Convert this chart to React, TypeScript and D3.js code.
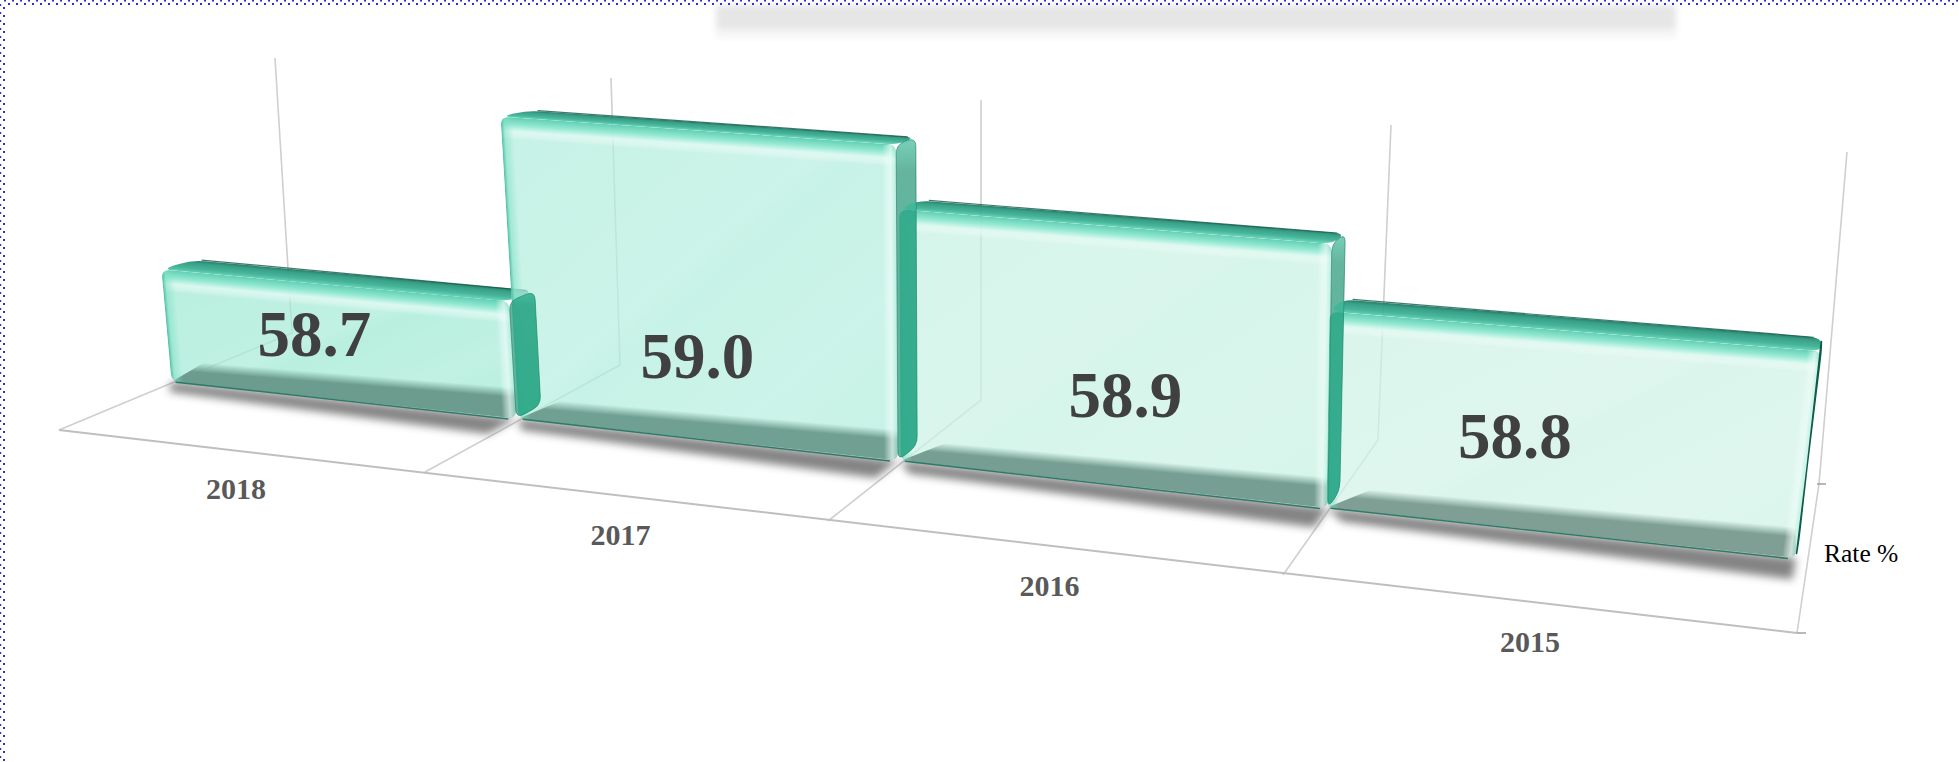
import React from "react";
import * as d3 from "d3";

// ---------- data ----------
const categories = ["2018", "2017", "2016", "2015"];
const rates = [58.7, 59.0, 58.9, 58.8];
const rateLabels = ["58.7", "59.0", "58.9", "58.8"];
const axisTitle = "Rate %";

// ---------- perspective frame of the 3D plot (screen calibration) ----------
const slots = [0, 1, 2, 3, 4];
const frontXs = [59, 425, 828, 1283, 1797];
const frontYs = [430, 472, 521, 575, 633];
const backXs = [292, 620, 981, 1378, 1819];
const backYs = [333, 365, 400, 440, 484];
const topXs = [275, 611, 981, 1391, 1847];
const topYs = [58, 78, 100, 125, 152];
const frontLean = [-0.09, -0.06, -0.005, 0.015, 0.125];

const frontX = d3.scaleLinear().domain(slots).range(frontXs);
const frontY = d3.scaleLinear().domain(slots).range(frontYs);
const backX = d3.scaleLinear().domain(slots).range(backXs);
const backY = d3.scaleLinear().domain(slots).range(backYs);
const topX = d3.scaleLinear().domain(slots).range(topXs);
const topY = d3.scaleLinear().domain(slots).range(topYs);
const leanFront = d3.scaleLinear().domain(slots).range(frontLean);

const valueScale = d3.scaleLinear().domain([58.51, 59.0]).range([0, 0.95]);
const FRONT_W = 0.495;
const BACK_W = 0.62;

type P = [number, number];

function project(u: number, h: number, w: number): P {
  const fx = frontX(u), fy = frontY(u), bx = backX(u), by = backY(u);
  const floorX = fx + (bx - fx) * w;
  const floorY = fy + (by - fy) * w;
  const wallH = by - topY(u);
  const wallLean = (topX(u) - bx) / wallH;
  const t = Math.max(0, (w - FRONT_W) / (1 - FRONT_W));
  const lean = leanFront(u) + (wallLean - leanFront(u)) * t;
  const height = wallH * h * (1 + (1 - w) * 0.215);
  return [floorX + lean * height, floorY - height];
}

// polygon with corners cut by a quadratic curve, tangent length limited by the edges
function rounded(points: P[], r: number): string {
  const path = d3.path();
  const n = points.length;
  for (let i = 0; i < n; i++) {
    const prev = points[(i + n - 1) % n];
    const cur = points[i];
    const next = points[(i + 1) % n];
    const d1 = Math.hypot(prev[0] - cur[0], prev[1] - cur[1]);
    const d2 = Math.hypot(next[0] - cur[0], next[1] - cur[1]);
    const c1 = Math.min(r, d1 * 0.45) / d1;
    const c2 = Math.min(r, d2 * 0.45) / d2;
    const ax = cur[0] + (prev[0] - cur[0]) * c1;
    const ay = cur[1] + (prev[1] - cur[1]) * c1;
    const bx = cur[0] + (next[0] - cur[0]) * c2;
    const by = cur[1] + (next[1] - cur[1]) * c2;
    if (i === 0) path.moveTo(ax, ay);
    else path.lineTo(ax, ay);
    path.quadraticCurveTo(cur[0], cur[1], bx, by);
  }
  path.closePath();
  return path.toString();
}

const poly = (pts: P[]) => pts.map((p) => p.join(",")).join(" ");

function NormalGrad({ id, a, b, len, stops }: { id: string; a: P; b: P; len: number; stops: [number, string, number][] }) {
  const ex = b[0] - a[0], ey = b[1] - a[1];
  const l = Math.hypot(ex, ey);
  const nx = -ey / l, ny = ex / l;
  return (
    <linearGradient id={id} gradientUnits="userSpaceOnUse" x1={a[0]} y1={a[1]} x2={a[0] + nx * len} y2={a[1] + ny * len}>
      {stops.map(([o, c, op], i) => (
        <stop key={i} offset={o} stopColor={c} stopOpacity={op} />
      ))}
    </linearGradient>
  );
}

// styling per bar
const faceColors = ["#9ae8d1", "#aeecdb", "#c3f1e1", "#caf1e4"];
const stripColors = ["#6c9c8e", "#70a092", "#769e92", "#7f9f94"];
const barStart = [-0.008, 0.992, 1.992, 2.992];
const barEnd = [0.985, 1.985, 2.995, 3.975];
const stripInset = [0.08, 0.1, 0.1, 0.09];
const labelU = [0.403, 1.46, 2.52, 3.387];
const labelLift = [41, 60, 69, 70];

const dotsTop1 = d3.range(4, 1959, 8);
const dotsTop2 = d3.range(8, 1959, 8);
const dotsLeft1 = d3.range(4, 762, 8);
const dotsLeft2 = d3.range(7, 762, 8);

function geometry(i: number) {
  const h = valueScale(rates[i]);
  const u0 = barStart[i], u1 = barEnd[i];
  const FLB = project(u0, 0, FRONT_W);
  const FRB = project(u1, 0, FRONT_W);
  const FLT = project(u0, h, FRONT_W);
  const FRT = project(u1, h, FRONT_W);
  const BLT = project(u0, h, BACK_W);
  const BRT = project(u1, h, BACK_W);
  const BRB = project(u1, 0, BACK_W);
  return {
    u0, u1, FLB, FRB, FLT, FRT, BLT, BRT, BRB,
    frontPath: rounded([FLT, FRT, FRB, FLB], 9),
    topPath: rounded([FLT, BLT, BRT, FRT], 13),
    sidePath: rounded([FRT, BRT, BRB, FRB], 9),
  };
}

export default function App() {
  const grid = slots;
  return (
    <svg width={1959} height={762} style={{ position: "fixed", left: 0, top: 0, background: "#fff" }} fontFamily="'Liberation Serif','Times New Roman',serif">
      <defs>
        <filter id="blurShadow" x="-10%" y="-80%" width="120%" height="260%">
          <feGaussianBlur stdDeviation="4" />
        </filter>
        <filter id="blurTop" x="-5%" y="-100%" width="110%" height="300%">
          <feGaussianBlur stdDeviation="3" />
        </filter>
        <linearGradient id="sheen" x1="0" y1="0" x2="1" y2="1">
          <stop offset="0" stopColor="#fff" stopOpacity="0" />
          <stop offset="0.45" stopColor="#fff" stopOpacity="0.12" />
          <stop offset="0.5" stopColor="#fff" stopOpacity="0.02" />
          <stop offset="0.75" stopColor="#fff" stopOpacity="0.12" />
          <stop offset="1" stopColor="#fff" stopOpacity="0" />
        </linearGradient>
      </defs>

      {/* blurred title box shadow at the top */}
      <rect x={716} y={30} width={960} height={8} fill="#f5f5f5" filter="url(#blurTop)" />
      <rect x={716} y={5} width={960} height={25} fill="#e6e6e6" filter="url(#blurTop)" />

      {/* dotted page border */}
      {dotsTop1.map((x) => <rect key={"t1" + x} x={x} y={0} width={2} height={1.5} fill="#3030d0" />)}
      {dotsTop2.map((x) => <rect key={"t2" + x} x={x} y={3} width={2} height={2} fill="#3030d0" />)}
      {dotsLeft1.map((y) => <rect key={"l1" + y} x={0} y={y} width={1.2} height={2} fill="#3030d0" />)}
      {dotsLeft2.map((y) => <rect key={"l2" + y} x={3} y={y} width={2} height={2} fill="#3030d0" />)}

      {/* floor and wall grid */}
      {grid.map((u) => (
        <polyline
          key={u}
          points={poly([[frontX(u), frontY(u)], [backX(u), backY(u)], [topX(u), topY(u)]])}
          fill="none"
          stroke="#cfcfcf"
          strokeWidth={1.6}
        />
      ))}
      <line x1={frontX(0)} y1={frontY(0)} x2={frontX(4)} y2={frontY(4)} stroke="#bfbfbf" strokeWidth={2} />
      <line x1={frontX(4)} y1={frontY(4)} x2={frontX(4) + 9} y2={frontY(4)} stroke="#a0a0a0" strokeWidth={1.5} />
      <line x1={backX(4) - 2} y1={backY(4)} x2={backX(4) + 7} y2={backY(4)} stroke="#a0a0a0" strokeWidth={1.5} />

      {/* ground shadows */}
      {rates.map((_, i) => {
        const { u0, u1 } = geometry(i);
        return (
          <polygon
            key={i}
            points={poly([project(u0, 0, FRONT_W), project(u1, 0, FRONT_W), project(u1, 0, 0.35), project(u0 + 0.05, 0, 0.41)])}
            fill="#6e6e6e"
            opacity={0.85}
            filter="url(#blurShadow)"
          />
        );
      })}

      {/* bars: top and front faces */}
      {rates.map((_, i) => {
        const { u0, FLB, FRB, FLT, FRT, BLT, BRT, frontPath, topPath } = geometry(i);
        const backLen = Math.abs(((FLT[0] - BLT[0]) * -(BRT[1] - BLT[1]) + (FLT[1] - BLT[1]) * (BRT[0] - BLT[0])) / Math.hypot(BRT[0] - BLT[0], BRT[1] - BLT[1]));
        const stripInnerL = project(u0 + stripInset[i], 0.0, FRONT_W + 0.02);
        const sTL: P = [stripInnerL[0], stripInnerL[1] - 20];
        const sTR: P = [FRB[0] - 0.5, FRB[1] - 31];
        return (
          <g key={i}>
            <defs>
              <clipPath id={`faceClip${i}`}><path d={frontPath} /></clipPath>
              <NormalGrad id={`topG${i}`} a={BLT} b={BRT} len={backLen} stops={[[0, "#1a7662", 1], [0.25, "#2c9a7f", 1], [0.7, "#3cb193", 1], [1, "#5bcdb1", 1]]} />
              <NormalGrad id={`topBev${i}`} a={FLT} b={FRT} len={22} stops={[[0, "#5bcdb1", 0.95], [0.35, "#8fe8d0", 0.9], [0.62, "#def9f1", 0.85], [1, "#ffffff", 0]]} />
              <NormalGrad id={`rBev${i}`} a={FRT} b={FRB} len={14} stops={[[0, "#a8ecd9", 0.55], [0.4, "#ecfcf7", 0.7], [1, "#ffffff", 0]]} />
              <NormalGrad id={`lBev${i}`} a={FLB} b={FLT} len={12} stops={[[0, "#3fb597", 0.9], [0.3, "#7fe0c6", 0.55], [1, "#7fe0c6", 0]]} />
              <NormalGrad id={`strip${i}`} a={sTL} b={sTR} len={10} stops={[[0, stripColors[i], 0], [1, stripColors[i], 1]]} />
            </defs>
            <path d={topPath} fill={`url(#topG${i})`} fillOpacity={0.94} />
            <line x1={BLT[0] + 10} y1={BLT[1]} x2={BRT[0] - 8} y2={BRT[1] - 0.5} stroke="#125a49" strokeWidth={1.2} strokeOpacity={0.8} />
            <path d={frontPath} fill={faceColors[i]} fillOpacity={0.7} />
            <g clipPath={`url(#faceClip${i})`}>
              <path d={frontPath} fill="url(#sheen)" />
              <polygon points={poly([FLB, sTL, sTR, FRB, [FRB[0], FRB[1] + 5], [FLB[0], FLB[1] + 5]])} fill={`url(#strip${i})`} />
              <polygon points={poly([FLT, FRT, [FRT[0], FRT[1] + 23], [FLT[0], FLT[1] + 23]])} fill={`url(#topBev${i})`} />
              <polygon points={poly([FRT, FRB, [FRB[0] - 15, FRB[1]], [FRT[0] - 15, FRT[1]]])} fill={`url(#rBev${i})`} />
              <polygon points={poly([FLT, FLB, [FLB[0] + 13, FLB[1]], [FLT[0] + 13, FLT[1]]])} fill={`url(#lBev${i})`} />
            </g>
            <line x1={FLB[0] + 4} y1={FLB[1] + 0.5} x2={FRB[0] - 8} y2={FRB[1] + 0.5} stroke="#15705b" strokeWidth={1.5} strokeOpacity={0.85} />
          </g>
        );
      })}

      {/* bars: right side faces, which show over the next bar; the overlap is darker */}
      {rates.map((_, i) => {
        const { sidePath } = geometry(i);
        const next = i < rates.length - 1 ? geometry(i + 1) : null;
        const last = next === null;
        return (
          <g key={i}>
            <defs>
              <linearGradient id={`side${i}`} x1="0" y1="0" x2="0" y2="1">
                <stop offset="0" stopColor="#6ccbb1" />
                <stop offset="0.1" stopColor="#57ae96" />
                <stop offset="1" stopColor="#4fae94" />
              </linearGradient>
              <clipPath id={`sideClip${i}`}><path d={sidePath} /></clipPath>
            </defs>
            <path d={sidePath} fill={`url(#side${i})`} fillOpacity={0.92} stroke={last ? "#0f5a4a" : "#17705c"} strokeWidth={last ? 1.4 : 0.8} strokeOpacity={last ? 1 : 0.7} />
            {next && (
              <g clipPath={`url(#sideClip${i})`} fill="#0fa57f" fillOpacity={0.5}>
                <path d={next.frontPath} />
              </g>
            )}
            {next && (
              <g clipPath={`url(#sideClip${i})`} fill="#2fc09c" fillOpacity={0.55}>
                <path d={next.topPath} />
              </g>
            )}
          </g>
        );
      })}

      {/* value labels */}
      {rates.map((_, i) => {
        const p = project(labelU[i], 0, FRONT_W);
        return (
          <text key={i} x={p[0]} y={p[1] - labelLift[i]} textAnchor="middle" fontSize={65} fontWeight={700} fill="#404040">
            {rateLabels[i]}
          </text>
        );
      })}

      {/* category labels */}
      {categories.map((c, i) => (
        <text key={c} x={frontX(i + 0.5) - (i === 3 ? 10 : 6)} y={frontY(i + 0.5) + 48} textAnchor="middle" fontSize={30} fontWeight={700} fill="#595959">
          {c}
        </text>
      ))}

      <text x={1824} y={562} fontSize={25.5} fill="#000">{axisTitle}</text>
    </svg>
  );
}
